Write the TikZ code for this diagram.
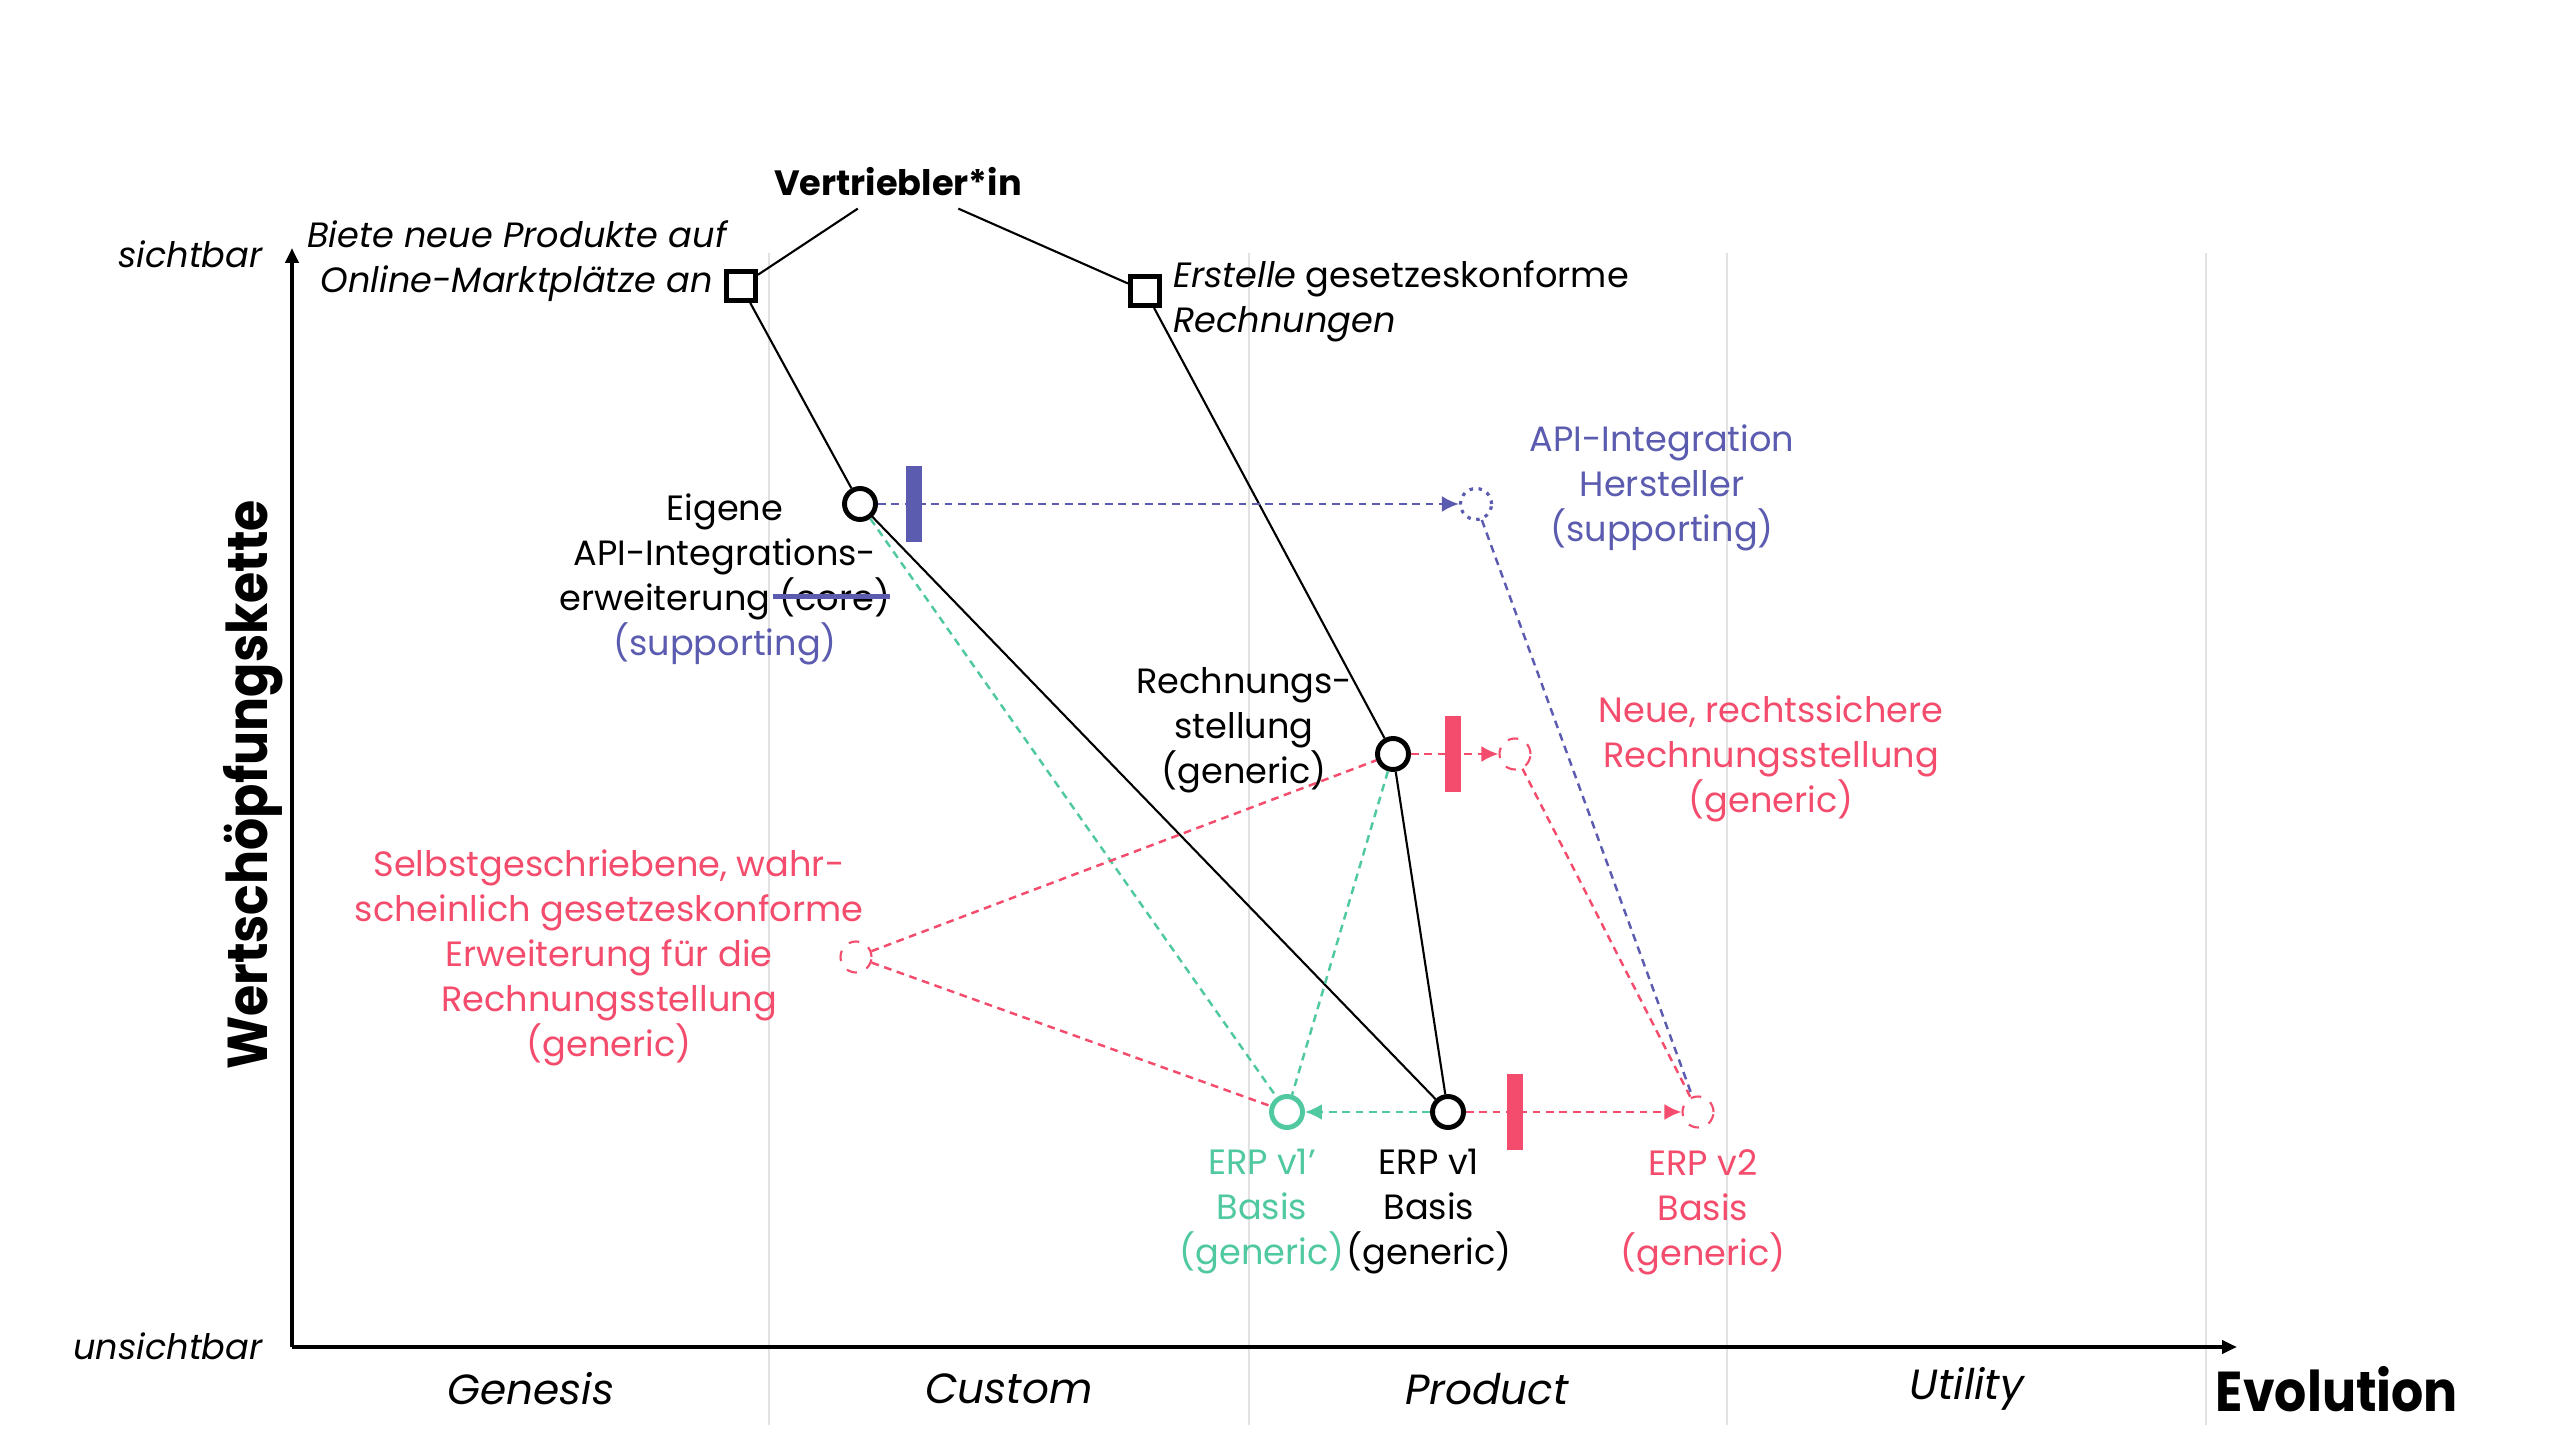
\documentclass[tikz,border=0pt]{standalone}
\usepackage{fontspec}
\setmainfont{Poppins}
\newfontfamily\heavyfont[FakeStretch=0.9]{Poppins}
\usepackage{tikz}
\usetikzlibrary{positioning}
\usetikzlibrary{arrows.meta}

\definecolor{apipurple}{RGB}{91,91,176}
\definecolor{newpink}{RGB}{244,76,108}
\definecolor{altgreen}{RGB}{80,200,160}
\definecolor{gridgray}{RGB}{226,226,226}

\newcommand\corestrike[1]{\setbox0\hbox{#1}\copy0\llap{\textcolor{apipurple}{\rule[0.6ex]{\dimexpr\wd0+2pt\relax}{1.3pt}}}}

\begin{document}
\begin{tikzpicture}[x=0.1mm,y=-0.1mm,
  every node/.style={font=\fontsize{10}{12.8}\selectfont},
  comp/.style={circle,draw,line width=1.4pt,minimum size=3.1mm,inner sep=0pt},
  user/.style={rectangle,draw,line width=1.4pt,minimum size=2.9mm,inner sep=0pt},
  future/.style={circle,draw,dashed,line width=0.6pt,minimum size=3.1mm,inner sep=0pt},
  link/.style={line width=0.6pt},
  move/.style={line width=0.7pt,dash pattern=on 2.2pt off 1.6pt},
  tip/.style={-{Latex[length=1.7mm,width=1.6mm]}},
  inertia/.style={rectangle,minimum width=1.6mm,minimum height=7.6mm,inner sep=0pt},
  txt/.style={align=center},
  gridline/.style={draw=gridgray,line width=0.8pt}]
\useasboundingbox (0,0) rectangle (2560,1440);

%grid
\foreach \gx in {769,1249,1727,2206}
  \draw[gridline] (\gx,253) -- (\gx,1425);

%axes
\coordinate (origin) at (292,1347);
\coordinate (ytop) at (292,248);
\coordinate (xend) at (2237,1347);
\draw[line width=1.3pt,-{Triangle[length=1.5mm,width=1.3mm]}] (origin) -- (ytop);
\draw[line width=1.3pt,-{Triangle[length=1.5mm,width=1.3mm]}] (origin) -- (xend);
\node[font=\fontsize{10}{12}\itshape, anchor=east] (visible) at (275,254) {sichtbar};
\node[font=\fontsize{10}{12}\itshape, anchor=east] (invisible) at (275,1346) {unsichtbar};
\node[font=\fontsize{16}{18}\heavyfont\bfseries, rotate=90] (valuechain) at (253,785) {Wertschöpfungskette};
\node[font=\fontsize{16}{18}\heavyfont\bfseries] (evolution) at (2337,1389) {Evolution};
\foreach \gx/\stage in {531/Genesis,1009/Custom,1487/Product,1967/Utility}
  \node[font=\fontsize{12}{14}\itshape] (stage-\stage) at (\gx,1389) {\stage};

%user and needs
\node[font=\fontsize{10}{12.8}\bfseries] (seller) at (898,182) {Vertriebler*in};
\node[user] (needoffer) at (741,286) {};
\node[user] (needinvoice) at (1145,291) {};
\node[txt, font=\fontsize{10}{12.8}\itshape] (offertext) at (517,261) {Biete neue Produkte auf\\Online-Marktplätze an};
\node[txt, anchor=west, align=left] (invoicetext) at (1161,301) {\textit{Erstelle} gesetzeskonforme\\\textit{Rechnungen}};

%components
\node[comp] (apiext) at (860,504) {};
\node[comp] (billing) at (1393,754) {};
\node[comp] (erpone) at (1448,1112) {};
\node[comp, draw=altgreen] (erpalt) at (1287,1112) {};
\node[future, draw=apipurple, dash pattern=on 1pt off 1.6pt, line width=0.9pt] (apivendor) at (1476,504) {};
\node[future, draw=newpink] (newbilling) at (1515,754) {};
\node[future, draw=newpink] (selfbuilt) at (856,957) {};
\node[future, draw=newpink] (erptwo) at (1698,1112) {};

%labels
\node[txt] (apiexttext) at (725,579) {Eigene\\API-Integrations-\\erweiterung \corestrike{(core)}\\\textcolor{apipurple}{(supporting)}};
\node[txt, text=apipurple] (apivendortext) at (1662,488) {API-Integration\\Hersteller\\(supporting)};
\node[txt] (billingtext) at (1244,730) {Rechnungs-\\stellung\\(generic)};
\node[txt, text=newpink] (newbillingtext) at (1771,759) {Neue, rechtssichere\\Rechnungsstellung\\(generic)};
\node[txt, text=newpink] (selfbuilttext) at (609,958) {Selbstgeschriebene, wahr-\\scheinlich gesetzeskonforme\\Erweiterung für die\\Rechnungsstellung\\(generic)};
\node[txt, text=altgreen] (erpalttext) at (1262,1212) {ERP v1'\\Basis\\(generic)};
\node[txt] (erponetext) at (1429,1212) {ERP v1\\Basis\\(generic)};
\node[txt, text=newpink] (erptwotext) at (1703,1212) {ERP v2\\Basis\\(generic)};

%value chain
\draw[link] (seller) -- (needoffer);
\draw[link] (seller) -- (needinvoice);
\draw[link] (needoffer) -- (apiext);
\draw[link] (needinvoice) -- (billing);
\draw[link] (apiext) -- (erpone);
\draw[link] (billing) -- (erpone);

%movements
\draw[move, altgreen] (apiext) -- (erpalt);
\draw[move, altgreen] (billing) -- (erpalt);
\draw[move, altgreen, tip] (erpone) -- (erpalt);
\draw[move, newpink] (selfbuilt) -- (billing);
\draw[move, newpink] (selfbuilt) -- (erpalt);
\draw[move, newpink, tip] (billing) -- (newbilling);
\draw[move, newpink] (newbilling) -- (erptwo);
\draw[move, newpink, tip] (erpone) -- (erptwo);
\draw[move, apipurple, tip] (apiext) -- (apivendor);
\draw[move, apipurple] (apivendor) -- (erptwo);

%inertia
\node[inertia, fill=apipurple] (barapi) at (914,504) {};
\node[inertia, fill=newpink] (barbilling) at (1453,754) {};
\node[inertia, fill=newpink] (barerp) at (1515,1112) {};

\end{tikzpicture}
\end{document}
